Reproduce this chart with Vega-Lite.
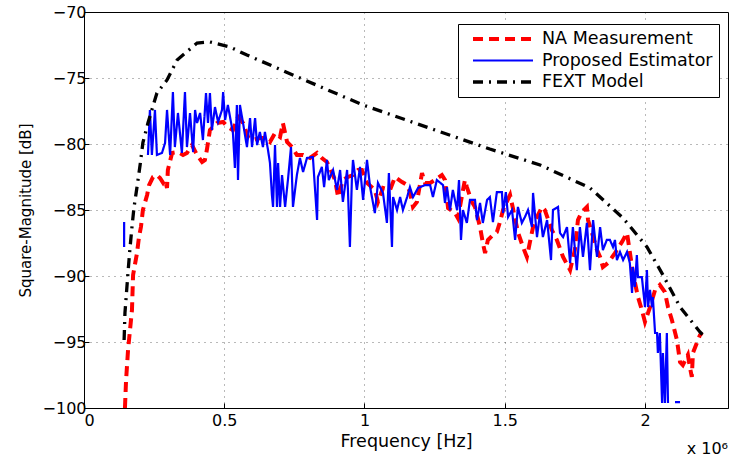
{
  "$schema": "https://vega.github.io/schema/vega-lite/v6.json",
  "width": 644,
  "height": 396,
  "autosize": {"type": "none"},
  "padding": {"left": 84, "top": 12, "right": 1, "bottom": 54},
  "background": "white",
  "config": {
    "font": "DejaVu Sans",
    "view": {"stroke": "black", "strokeWidth": 1},
    "axis": {
      "domainColor": "black", "domainWidth": 1,
      "tickColor": "black", "tickSize": -5, "tickWidth": 1,
      "labelColor": "black", "labelFontSize": 16, "labelFont": "DejaVu Sans",
      "titleFont": "DejaVu Sans", "titleFontWeight": "normal", "titleColor": "black",
      "grid": true, "gridColor": "#000000", "gridOpacity": 0.55, "gridDash": [1, 5], "gridWidth": 1
    },
    "axisX": {"labelPadding": 9, "titleFontSize": 17.5, "titlePadding": 4},
    "axisY": {"labelPadding": 3, "titleFontSize": 15, "titlePadding": 9}
  },
  "datasets": {
    "curves": [
      {"s": "NA Measurement", "f": 0.146, "m": -100},
      {"s": "NA Measurement", "f": 0.150, "m": -97.88},
      {"s": "NA Measurement", "f": 0.157, "m": -95.61},
      {"s": "NA Measurement", "f": 0.164, "m": -94.09},
      {"s": "NA Measurement", "f": 0.171, "m": -92.58},
      {"s": "NA Measurement", "f": 0.175, "m": -89.92},
      {"s": "NA Measurement", "f": 0.189, "m": -88.26},
      {"s": "NA Measurement", "f": 0.196, "m": -87.05},
      {"s": "NA Measurement", "f": 0.203, "m": -86.29},
      {"s": "NA Measurement", "f": 0.210, "m": -85.0},
      {"s": "NA Measurement", "f": 0.225, "m": -83.86},
      {"s": "NA Measurement", "f": 0.232, "m": -83.11},
      {"s": "NA Measurement", "f": 0.246, "m": -82.5},
      {"s": "NA Measurement", "f": 0.260, "m": -82.35},
      {"s": "NA Measurement", "f": 0.271, "m": -82.58},
      {"s": "NA Measurement", "f": 0.282, "m": -82.95},
      {"s": "NA Measurement", "f": 0.289, "m": -82.73},
      {"s": "NA Measurement", "f": 0.296, "m": -83.33},
      {"s": "NA Measurement", "f": 0.299, "m": -81.97},
      {"s": "NA Measurement", "f": 0.314, "m": -80.68},
      {"s": "NA Measurement", "f": 0.335, "m": -80.61},
      {"s": "NA Measurement", "f": 0.353, "m": -80.83},
      {"s": "NA Measurement", "f": 0.367, "m": -80.68},
      {"s": "NA Measurement", "f": 0.385, "m": -80.08},
      {"s": "NA Measurement", "f": 0.403, "m": -80.83},
      {"s": "NA Measurement", "f": 0.421, "m": -81.36},
      {"s": "NA Measurement", "f": 0.431, "m": -81.21},
      {"s": "NA Measurement", "f": 0.438, "m": -80.45},
      {"s": "NA Measurement", "f": 0.449, "m": -78.94},
      {"s": "NA Measurement", "f": 0.474, "m": -78.41},
      {"s": "NA Measurement", "f": 0.496, "m": -78.33},
      {"s": "NA Measurement", "f": 0.513, "m": -78.71},
      {"s": "NA Measurement", "f": 0.531, "m": -78.94},
      {"s": "NA Measurement", "f": 0.549, "m": -77.95},
      {"s": "NA Measurement", "f": 0.567, "m": -78.41},
      {"s": "NA Measurement", "f": 0.585, "m": -79.47},
      {"s": "NA Measurement", "f": 0.602, "m": -79.70},
      {"s": "NA Measurement", "f": 0.627, "m": -79.55},
      {"s": "NA Measurement", "f": 0.645, "m": -79.55},
      {"s": "NA Measurement", "f": 0.663, "m": -79.85},
      {"s": "NA Measurement", "f": 0.681, "m": -79.17},
      {"s": "NA Measurement", "f": 0.699, "m": -79.47},
      {"s": "NA Measurement", "f": 0.709, "m": -78.41},
      {"s": "NA Measurement", "f": 0.724, "m": -79.85},
      {"s": "NA Measurement", "f": 0.742, "m": -80.23},
      {"s": "NA Measurement", "f": 0.759, "m": -80.83},
      {"s": "NA Measurement", "f": 0.781, "m": -80.83},
      {"s": "NA Measurement", "f": 0.806, "m": -81.06},
      {"s": "NA Measurement", "f": 0.831, "m": -80.68},
      {"s": "NA Measurement", "f": 0.848, "m": -81.06},
      {"s": "NA Measurement", "f": 0.866, "m": -81.36},
      {"s": "NA Measurement", "f": 0.877, "m": -81.82},
      {"s": "NA Measurement", "f": 0.895, "m": -82.73},
      {"s": "NA Measurement", "f": 0.906, "m": -84.02},
      {"s": "NA Measurement", "f": 0.923, "m": -82.73},
      {"s": "NA Measurement", "f": 0.941, "m": -82.5},
      {"s": "NA Measurement", "f": 0.959, "m": -82.35},
      {"s": "NA Measurement", "f": 0.977, "m": -81.97},
      {"s": "NA Measurement", "f": 0.991, "m": -81.97},
      {"s": "NA Measurement", "f": 1.009, "m": -82.95},
      {"s": "NA Measurement", "f": 1.037, "m": -83.48},
      {"s": "NA Measurement", "f": 1.048, "m": -84.39},
      {"s": "NA Measurement", "f": 1.066, "m": -83.33},
      {"s": "NA Measurement", "f": 1.091, "m": -83.48},
      {"s": "NA Measurement", "f": 1.109, "m": -82.5},
      {"s": "NA Measurement", "f": 1.134, "m": -82.88},
      {"s": "NA Measurement", "f": 1.152, "m": -83.11},
      {"s": "NA Measurement", "f": 1.162, "m": -83.64},
      {"s": "NA Measurement", "f": 1.173, "m": -84.77},
      {"s": "NA Measurement", "f": 1.187, "m": -84.39},
      {"s": "NA Measurement", "f": 1.205, "m": -82.2},
      {"s": "NA Measurement", "f": 1.216, "m": -82.95},
      {"s": "NA Measurement", "f": 1.234, "m": -82.95},
      {"s": "NA Measurement", "f": 1.251, "m": -82.73},
      {"s": "NA Measurement", "f": 1.276, "m": -82.35},
      {"s": "NA Measurement", "f": 1.287, "m": -82.73},
      {"s": "NA Measurement", "f": 1.298, "m": -84.85},
      {"s": "NA Measurement", "f": 1.323, "m": -85.23},
      {"s": "NA Measurement", "f": 1.333, "m": -85.61},
      {"s": "NA Measurement", "f": 1.348, "m": -83.86},
      {"s": "NA Measurement", "f": 1.358, "m": -82.73},
      {"s": "NA Measurement", "f": 1.365, "m": -83.26},
      {"s": "NA Measurement", "f": 1.383, "m": -84.39},
      {"s": "NA Measurement", "f": 1.394, "m": -84.77},
      {"s": "NA Measurement", "f": 1.412, "m": -86.29},
      {"s": "NA Measurement", "f": 1.422, "m": -87.5},
      {"s": "NA Measurement", "f": 1.430, "m": -88.26},
      {"s": "NA Measurement", "f": 1.440, "m": -87.27},
      {"s": "NA Measurement", "f": 1.458, "m": -86.89},
      {"s": "NA Measurement", "f": 1.472, "m": -86.67},
      {"s": "NA Measurement", "f": 1.483, "m": -85.91},
      {"s": "NA Measurement", "f": 1.494, "m": -85.0},
      {"s": "NA Measurement", "f": 1.519, "m": -83.86},
      {"s": "NA Measurement", "f": 1.529, "m": -84.85},
      {"s": "NA Measurement", "f": 1.547, "m": -86.67},
      {"s": "NA Measurement", "f": 1.565, "m": -87.8},
      {"s": "NA Measurement", "f": 1.579, "m": -88.56},
      {"s": "NA Measurement", "f": 1.590, "m": -87.42},
      {"s": "NA Measurement", "f": 1.601, "m": -86.29},
      {"s": "NA Measurement", "f": 1.615, "m": -85.53},
      {"s": "NA Measurement", "f": 1.633, "m": -84.77},
      {"s": "NA Measurement", "f": 1.643, "m": -85.0},
      {"s": "NA Measurement", "f": 1.668, "m": -86.52},
      {"s": "NA Measurement", "f": 1.686, "m": -87.27},
      {"s": "NA Measurement", "f": 1.708, "m": -88.56},
      {"s": "NA Measurement", "f": 1.733, "m": -89.55},
      {"s": "NA Measurement", "f": 1.750, "m": -88.03},
      {"s": "NA Measurement", "f": 1.761, "m": -85.76},
      {"s": "NA Measurement", "f": 1.775, "m": -85.15},
      {"s": "NA Measurement", "f": 1.793, "m": -84.77},
      {"s": "NA Measurement", "f": 1.797, "m": -85.76},
      {"s": "NA Measurement", "f": 1.811, "m": -86.74},
      {"s": "NA Measurement", "f": 1.829, "m": -88.03},
      {"s": "NA Measurement", "f": 1.840, "m": -88.56},
      {"s": "NA Measurement", "f": 1.850, "m": -89.32},
      {"s": "NA Measurement", "f": 1.868, "m": -89.02},
      {"s": "NA Measurement", "f": 1.893, "m": -88.26},
      {"s": "NA Measurement", "f": 1.918, "m": -87.42},
      {"s": "NA Measurement", "f": 1.936, "m": -86.74},
      {"s": "NA Measurement", "f": 1.957, "m": -89.77},
      {"s": "NA Measurement", "f": 1.975, "m": -91.59},
      {"s": "NA Measurement", "f": 1.989, "m": -92.58},
      {"s": "NA Measurement", "f": 2.000, "m": -93.48},
      {"s": "NA Measurement", "f": 2.018, "m": -92.35},
      {"s": "NA Measurement", "f": 2.036, "m": -91.06},
      {"s": "NA Measurement", "f": 2.053, "m": -90.68},
      {"s": "NA Measurement", "f": 2.071, "m": -91.21},
      {"s": "NA Measurement", "f": 2.082, "m": -92.35},
      {"s": "NA Measurement", "f": 2.096, "m": -93.33},
      {"s": "NA Measurement", "f": 2.114, "m": -94.85},
      {"s": "NA Measurement", "f": 2.125, "m": -96.52},
      {"s": "NA Measurement", "f": 2.135, "m": -96.74},
      {"s": "NA Measurement", "f": 2.153, "m": -95.98},
      {"s": "NA Measurement", "f": 2.160, "m": -96.89},
      {"s": "NA Measurement", "f": 2.167, "m": -97.65},
      {"s": "NA Measurement", "f": 2.171, "m": -95.83},
      {"s": "NA Measurement", "f": 2.196, "m": -94.47},
      {"s": "NA Measurement", "f": 2.203, "m": -94.32},

      {"s": "Proposed Estimator", "f": 0.143, "m": -87.8},
      {"s": "Proposed Estimator", "f": 0.1431, "m": -85.91},
      {"s": "Proposed Estimator", "f": 0.18, "m": null},
      {"s": "Proposed Estimator", "f": 0.228, "m": -80.83},
      {"s": "Proposed Estimator", "f": 0.235, "m": -77.42},
      {"s": "Proposed Estimator", "f": 0.242, "m": -80.83},
      {"s": "Proposed Estimator", "f": 0.253, "m": -77.42},
      {"s": "Proposed Estimator", "f": 0.260, "m": -80.83},
      {"s": "Proposed Estimator", "f": 0.278, "m": -80.68},
      {"s": "Proposed Estimator", "f": 0.289, "m": -79.92},
      {"s": "Proposed Estimator", "f": 0.296, "m": -77.42},
      {"s": "Proposed Estimator", "f": 0.307, "m": -80.83},
      {"s": "Proposed Estimator", "f": 0.317, "m": -76.06},
      {"s": "Proposed Estimator", "f": 0.324, "m": -80.23},
      {"s": "Proposed Estimator", "f": 0.335, "m": -77.65},
      {"s": "Proposed Estimator", "f": 0.349, "m": -80.68},
      {"s": "Proposed Estimator", "f": 0.360, "m": -76.06},
      {"s": "Proposed Estimator", "f": 0.367, "m": -80.23},
      {"s": "Proposed Estimator", "f": 0.378, "m": -77.65},
      {"s": "Proposed Estimator", "f": 0.389, "m": -80.61},
      {"s": "Proposed Estimator", "f": 0.396, "m": -77.42},
      {"s": "Proposed Estimator", "f": 0.403, "m": -78.41},
      {"s": "Proposed Estimator", "f": 0.414, "m": -77.65},
      {"s": "Proposed Estimator", "f": 0.424, "m": -79.70},
      {"s": "Proposed Estimator", "f": 0.435, "m": -76.14},
      {"s": "Proposed Estimator", "f": 0.442, "m": -78.41},
      {"s": "Proposed Estimator", "f": 0.449, "m": -76.14},
      {"s": "Proposed Estimator", "f": 0.456, "m": -78.94},
      {"s": "Proposed Estimator", "f": 0.467, "m": -77.2},
      {"s": "Proposed Estimator", "f": 0.478, "m": -78.33},
      {"s": "Proposed Estimator", "f": 0.492, "m": -77.42},
      {"s": "Proposed Estimator", "f": 0.496, "m": -76.06},
      {"s": "Proposed Estimator", "f": 0.503, "m": -78.18},
      {"s": "Proposed Estimator", "f": 0.513, "m": -77.05},
      {"s": "Proposed Estimator", "f": 0.531, "m": -79.17},
      {"s": "Proposed Estimator", "f": 0.538, "m": -81.82},
      {"s": "Proposed Estimator", "f": 0.545, "m": -77.05},
      {"s": "Proposed Estimator", "f": 0.549, "m": -82.73},
      {"s": "Proposed Estimator", "f": 0.556, "m": -77.05},
      {"s": "Proposed Estimator", "f": 0.567, "m": -78.41},
      {"s": "Proposed Estimator", "f": 0.581, "m": -80.23},
      {"s": "Proposed Estimator", "f": 0.592, "m": -78.03},
      {"s": "Proposed Estimator", "f": 0.599, "m": -80.23},
      {"s": "Proposed Estimator", "f": 0.610, "m": -78.03},
      {"s": "Proposed Estimator", "f": 0.617, "m": -80.08},
      {"s": "Proposed Estimator", "f": 0.627, "m": -79.09},
      {"s": "Proposed Estimator", "f": 0.638, "m": -80.23},
      {"s": "Proposed Estimator", "f": 0.645, "m": -79.09},
      {"s": "Proposed Estimator", "f": 0.656, "m": -80.45},
      {"s": "Proposed Estimator", "f": 0.663, "m": -81.44},
      {"s": "Proposed Estimator", "f": 0.670, "m": -83.86},
      {"s": "Proposed Estimator", "f": 0.674, "m": -84.77},
      {"s": "Proposed Estimator", "f": 0.681, "m": -80.08},
      {"s": "Proposed Estimator", "f": 0.688, "m": -84.77},
      {"s": "Proposed Estimator", "f": 0.692, "m": -81.44},
      {"s": "Proposed Estimator", "f": 0.699, "m": -84.77},
      {"s": "Proposed Estimator", "f": 0.706, "m": -82.35},
      {"s": "Proposed Estimator", "f": 0.717, "m": -84.77},
      {"s": "Proposed Estimator", "f": 0.727, "m": -82.73},
      {"s": "Proposed Estimator", "f": 0.738, "m": -80.23},
      {"s": "Proposed Estimator", "f": 0.745, "m": -84.77},
      {"s": "Proposed Estimator", "f": 0.759, "m": -82.35},
      {"s": "Proposed Estimator", "f": 0.770, "m": -81.06},
      {"s": "Proposed Estimator", "f": 0.781, "m": -82.12},
      {"s": "Proposed Estimator", "f": 0.795, "m": -81.06},
      {"s": "Proposed Estimator", "f": 0.816, "m": -80.98},
      {"s": "Proposed Estimator", "f": 0.831, "m": -85.76},
      {"s": "Proposed Estimator", "f": 0.834, "m": -82.5},
      {"s": "Proposed Estimator", "f": 0.848, "m": -81.74},
      {"s": "Proposed Estimator", "f": 0.856, "m": -83.26},
      {"s": "Proposed Estimator", "f": 0.866, "m": -81.21},
      {"s": "Proposed Estimator", "f": 0.873, "m": -82.73},
      {"s": "Proposed Estimator", "f": 0.888, "m": -81.97},
      {"s": "Proposed Estimator", "f": 0.902, "m": -83.48},
      {"s": "Proposed Estimator", "f": 0.913, "m": -81.97},
      {"s": "Proposed Estimator", "f": 0.923, "m": -84.39},
      {"s": "Proposed Estimator", "f": 0.938, "m": -81.97},
      {"s": "Proposed Estimator", "f": 0.941, "m": -83.48},
      {"s": "Proposed Estimator", "f": 0.948, "m": -87.8},
      {"s": "Proposed Estimator", "f": 0.955, "m": -82.73},
      {"s": "Proposed Estimator", "f": 0.959, "m": -81.21},
      {"s": "Proposed Estimator", "f": 0.973, "m": -83.48},
      {"s": "Proposed Estimator", "f": 0.984, "m": -81.74},
      {"s": "Proposed Estimator", "f": 0.995, "m": -84.24},
      {"s": "Proposed Estimator", "f": 1.009, "m": -81.21},
      {"s": "Proposed Estimator", "f": 1.020, "m": -83.26},
      {"s": "Proposed Estimator", "f": 1.037, "m": -85.23},
      {"s": "Proposed Estimator", "f": 1.048, "m": -82.95},
      {"s": "Proposed Estimator", "f": 1.066, "m": -83.71},
      {"s": "Proposed Estimator", "f": 1.080, "m": -85.98},
      {"s": "Proposed Estimator", "f": 1.087, "m": -82.2},
      {"s": "Proposed Estimator", "f": 1.098, "m": -87.8},
      {"s": "Proposed Estimator", "f": 1.102, "m": -84.02},
      {"s": "Proposed Estimator", "f": 1.116, "m": -85.0},
      {"s": "Proposed Estimator", "f": 1.127, "m": -84.02},
      {"s": "Proposed Estimator", "f": 1.137, "m": -85.0},
      {"s": "Proposed Estimator", "f": 1.152, "m": -84.02},
      {"s": "Proposed Estimator", "f": 1.162, "m": -83.26},
      {"s": "Proposed Estimator", "f": 1.173, "m": -84.02},
      {"s": "Proposed Estimator", "f": 1.191, "m": -83.33},
      {"s": "Proposed Estimator", "f": 1.216, "m": -83.11},
      {"s": "Proposed Estimator", "f": 1.234, "m": -83.11},
      {"s": "Proposed Estimator", "f": 1.244, "m": -84.02},
      {"s": "Proposed Estimator", "f": 1.258, "m": -82.73},
      {"s": "Proposed Estimator", "f": 1.280, "m": -83.11},
      {"s": "Proposed Estimator", "f": 1.287, "m": -84.47},
      {"s": "Proposed Estimator", "f": 1.294, "m": -83.26},
      {"s": "Proposed Estimator", "f": 1.305, "m": -85.0},
      {"s": "Proposed Estimator", "f": 1.315, "m": -83.48},
      {"s": "Proposed Estimator", "f": 1.330, "m": -85.0},
      {"s": "Proposed Estimator", "f": 1.337, "m": -82.73},
      {"s": "Proposed Estimator", "f": 1.344, "m": -87.27},
      {"s": "Proposed Estimator", "f": 1.351, "m": -85.0},
      {"s": "Proposed Estimator", "f": 1.365, "m": -85.98},
      {"s": "Proposed Estimator", "f": 1.376, "m": -84.24},
      {"s": "Proposed Estimator", "f": 1.394, "m": -84.24},
      {"s": "Proposed Estimator", "f": 1.401, "m": -85.76},
      {"s": "Proposed Estimator", "f": 1.412, "m": -84.47},
      {"s": "Proposed Estimator", "f": 1.422, "m": -85.98},
      {"s": "Proposed Estimator", "f": 1.437, "m": -84.24},
      {"s": "Proposed Estimator", "f": 1.447, "m": -84.02},
      {"s": "Proposed Estimator", "f": 1.458, "m": -85.91},
      {"s": "Proposed Estimator", "f": 1.472, "m": -83.64},
      {"s": "Proposed Estimator", "f": 1.490, "m": -83.64},
      {"s": "Proposed Estimator", "f": 1.494, "m": -85.23},
      {"s": "Proposed Estimator", "f": 1.504, "m": -83.64},
      {"s": "Proposed Estimator", "f": 1.512, "m": -85.53},
      {"s": "Proposed Estimator", "f": 1.526, "m": -85.0},
      {"s": "Proposed Estimator", "f": 1.537, "m": -87.27},
      {"s": "Proposed Estimator", "f": 1.547, "m": -84.77},
      {"s": "Proposed Estimator", "f": 1.561, "m": -85.98},
      {"s": "Proposed Estimator", "f": 1.572, "m": -85.53},
      {"s": "Proposed Estimator", "f": 1.583, "m": -85.0},
      {"s": "Proposed Estimator", "f": 1.597, "m": -86.29},
      {"s": "Proposed Estimator", "f": 1.601, "m": -83.71},
      {"s": "Proposed Estimator", "f": 1.615, "m": -87.05},
      {"s": "Proposed Estimator", "f": 1.626, "m": -85.23},
      {"s": "Proposed Estimator", "f": 1.636, "m": -87.05},
      {"s": "Proposed Estimator", "f": 1.651, "m": -85.76},
      {"s": "Proposed Estimator", "f": 1.665, "m": -88.79},
      {"s": "Proposed Estimator", "f": 1.672, "m": -85.0},
      {"s": "Proposed Estimator", "f": 1.690, "m": -84.77},
      {"s": "Proposed Estimator", "f": 1.697, "m": -86.74},
      {"s": "Proposed Estimator", "f": 1.708, "m": -87.05},
      {"s": "Proposed Estimator", "f": 1.722, "m": -86.29},
      {"s": "Proposed Estimator", "f": 1.733, "m": -89.02},
      {"s": "Proposed Estimator", "f": 1.743, "m": -86.29},
      {"s": "Proposed Estimator", "f": 1.757, "m": -89.55},
      {"s": "Proposed Estimator", "f": 1.768, "m": -86.29},
      {"s": "Proposed Estimator", "f": 1.779, "m": -88.56},
      {"s": "Proposed Estimator", "f": 1.793, "m": -85.98},
      {"s": "Proposed Estimator", "f": 1.804, "m": -89.55},
      {"s": "Proposed Estimator", "f": 1.815, "m": -85.76},
      {"s": "Proposed Estimator", "f": 1.829, "m": -88.56},
      {"s": "Proposed Estimator", "f": 1.840, "m": -86.29},
      {"s": "Proposed Estimator", "f": 1.850, "m": -88.03},
      {"s": "Proposed Estimator", "f": 1.864, "m": -87.27},
      {"s": "Proposed Estimator", "f": 1.875, "m": -87.27},
      {"s": "Proposed Estimator", "f": 1.886, "m": -87.80},
      {"s": "Proposed Estimator", "f": 1.893, "m": -87.27},
      {"s": "Proposed Estimator", "f": 1.900, "m": -88.79},
      {"s": "Proposed Estimator", "f": 1.911, "m": -88.18},
      {"s": "Proposed Estimator", "f": 1.922, "m": -88.79},
      {"s": "Proposed Estimator", "f": 1.936, "m": -88.18},
      {"s": "Proposed Estimator", "f": 1.946, "m": -89.02},
      {"s": "Proposed Estimator", "f": 1.954, "m": -91.29},
      {"s": "Proposed Estimator", "f": 1.957, "m": -89.32},
      {"s": "Proposed Estimator", "f": 1.964, "m": -90.83},
      {"s": "Proposed Estimator", "f": 1.971, "m": -88.41},
      {"s": "Proposed Estimator", "f": 1.975, "m": -90.08},
      {"s": "Proposed Estimator", "f": 1.989, "m": -90.08},
      {"s": "Proposed Estimator", "f": 2.000, "m": -92.35},
      {"s": "Proposed Estimator", "f": 2.007, "m": -89.55},
      {"s": "Proposed Estimator", "f": 2.011, "m": -92.35},
      {"s": "Proposed Estimator", "f": 2.018, "m": -91.06},
      {"s": "Proposed Estimator", "f": 2.025, "m": -92.35},
      {"s": "Proposed Estimator", "f": 2.028, "m": -91.59},
      {"s": "Proposed Estimator", "f": 2.036, "m": -94.32},
      {"s": "Proposed Estimator", "f": 2.043, "m": -94.32},
      {"s": "Proposed Estimator", "f": 2.046, "m": -95.83},
      {"s": "Proposed Estimator", "f": 2.053, "m": -94.32},
      {"s": "Proposed Estimator", "f": 2.061, "m": -99.62},
      {"s": "Proposed Estimator", "f": 2.064, "m": -95.83},
      {"s": "Proposed Estimator", "f": 2.071, "m": -99.62},
      {"s": "Proposed Estimator", "f": 2.078, "m": -94.32},
      {"s": "Proposed Estimator", "f": 2.082, "m": -99.62},
      {"s": "Proposed Estimator", "f": 2.095, "m": null},
      {"s": "Proposed Estimator", "f": 2.107, "m": -99.55},
      {"s": "Proposed Estimator", "f": 2.125, "m": -99.55},

      {"s": "FEXT Model", "f": 0.143, "m": -94.85},
      {"s": "FEXT Model", "f": 0.146, "m": -92.8},
      {"s": "FEXT Model", "f": 0.157, "m": -89.7},
      {"s": "FEXT Model", "f": 0.164, "m": -87.88},
      {"s": "FEXT Model", "f": 0.171, "m": -86.29},
      {"s": "FEXT Model", "f": 0.178, "m": -84.85},
      {"s": "FEXT Model", "f": 0.189, "m": -83.26},
      {"s": "FEXT Model", "f": 0.200, "m": -81.59},
      {"s": "FEXT Model", "f": 0.210, "m": -79.9},
      {"s": "FEXT Model", "f": 0.228, "m": -78.41},
      {"s": "FEXT Model", "f": 0.260, "m": -76.14},
      {"s": "FEXT Model", "f": 0.296, "m": -75.15},
      {"s": "FEXT Model", "f": 0.332, "m": -73.64},
      {"s": "FEXT Model", "f": 0.403, "m": -72.35},
      {"s": "FEXT Model", "f": 0.449, "m": -72.27},
      {"s": "FEXT Model", "f": 0.520, "m": -72.65},
      {"s": "FEXT Model", "f": 0.581, "m": -73.26},
      {"s": "FEXT Model", "f": 0.770, "m": -75.0},
      {"s": "FEXT Model", "f": 0.995, "m": -77.05},
      {"s": "FEXT Model", "f": 1.447, "m": -80.38},
      {"s": "FEXT Model", "f": 1.626, "m": -81.59},
      {"s": "FEXT Model", "f": 1.804, "m": -83.33},
      {"s": "FEXT Model", "f": 1.922, "m": -85.61},
      {"s": "FEXT Model", "f": 2.007, "m": -87.8},
      {"s": "FEXT Model", "f": 2.064, "m": -89.92},
      {"s": "FEXT Model", "f": 2.125, "m": -92.35},
      {"s": "FEXT Model", "f": 2.196, "m": -94.24},
      {"s": "FEXT Model", "f": 2.207, "m": -94.47}
    ],
    "note": [{"f": 2.296, "m": -100, "t": "x 10⁶"}]
  },
  "layer": [
    {
      "data": {"name": "curves"},
      "mark": {"type": "line", "clip": true, "strokeCap": "butt", "invalid": "break-paths-show-domains"},
      "encoding": {
        "x": {
          "field": "f", "type": "quantitative",
          "scale": {"domain": [0, 2.296], "nice": false, "zero": false},
          "axis": {"values": [0, 0.5, 1, 1.5, 2], "format": "~g", "title": "Frequency [Hz]"}
        },
        "y": {
          "field": "m", "type": "quantitative",
          "scale": {"domain": [-100, -70], "nice": false, "zero": false},
          "axis": {"values": [-100, -95, -90, -85, -80, -75, -70], "format": "d", "title": "Square-Magnitude [dB]"}
        },
        "color": {
          "field": "s", "type": "nominal",
          "scale": {"domain": ["NA Measurement", "Proposed Estimator", "FEXT Model"], "range": ["#ff0000", "#0000ff", "#000000"]},
          "legend": {
            "title": null, "orient": "none", "legendX": 374, "legendY": 12,
            "symbolType": "stroke", "symbolSize": 3600, "symbolOffset": 7, "clipHeight": 18,
            "labelFontSize": 17.5, "labelFont": "DejaVu Sans", "labelColor": "black", "labelLimit": 400,
            "strokeColor": "black", "fillColor": "white", "padding": 6, "rowPadding": 3.5, "labelOffset": 7
          }
        },
        "strokeDash": {
          "field": "s", "type": "nominal",
          "scale": {"domain": ["NA Measurement", "Proposed Estimator", "FEXT Model"], "range": [[10, 6], [1, 0], [10, 6, 2, 6]]},
          "legend": {"title": null}
        },
        "strokeWidth": {
          "field": "s", "type": "nominal",
          "scale": {"type": "ordinal", "domain": ["NA Measurement", "Proposed Estimator", "FEXT Model"], "range": [4, 2.2, 3.3]},
          "legend": {"title": null}
        }
      }
    },
    {
      "data": {"name": "note"},
      "mark": {"type": "text", "align": "right", "baseline": "alphabetic", "dy": 46, "fontSize": 16, "font": "DejaVu Sans", "color": "black"},
      "encoding": {
        "x": {"field": "f", "type": "quantitative"},
        "y": {"field": "m", "type": "quantitative"},
        "text": {"field": "t"}
      }
    }
  ]
}
